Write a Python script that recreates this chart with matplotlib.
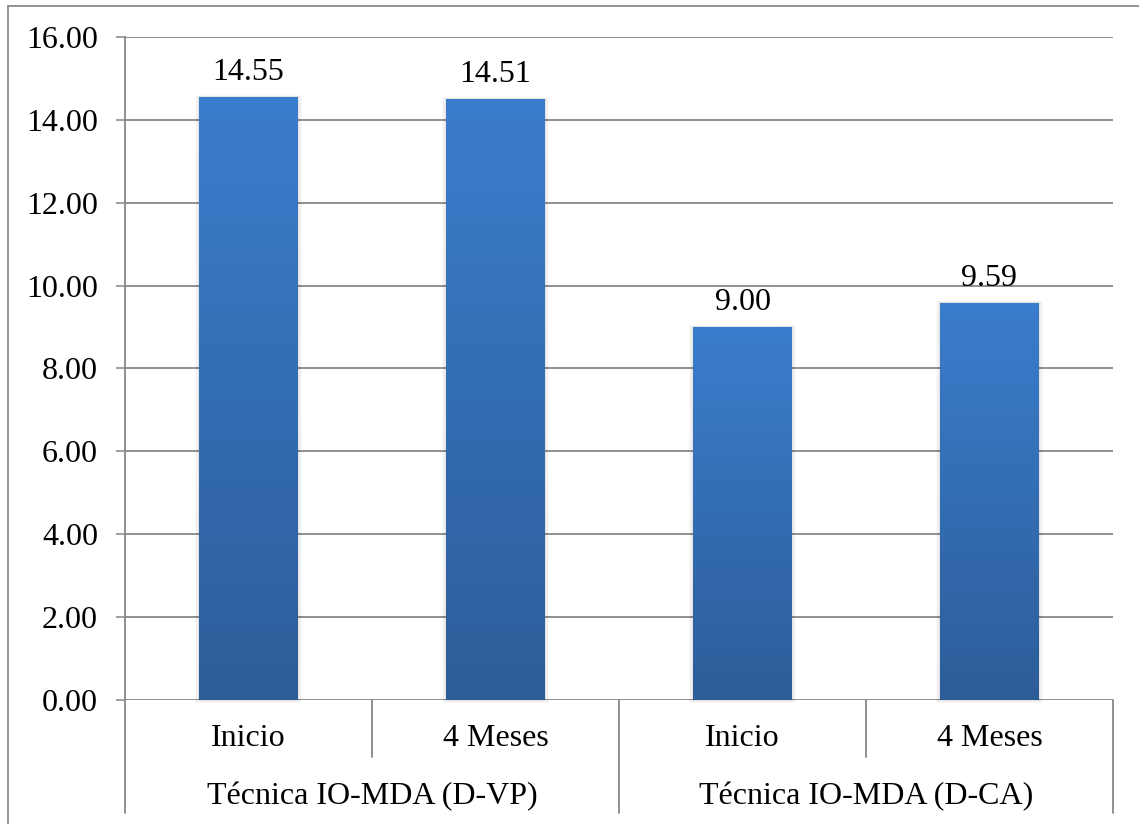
import numpy as np
import matplotlib
matplotlib.use("Agg")
import matplotlib.pyplot as plt
from matplotlib.colors import LinearSegmentedColormap
from matplotlib.patches import Rectangle
from matplotlib.transforms import blended_transform_factory, offset_copy

# Data
groups = ["Técnica IO-MDA (D-VP)", "Técnica IO-MDA (D-CA)"]
periods = ["Inicio", "4 Meses", "Inicio", "4 Meses"]
values = [14.55, 14.51, 9.00, 9.59]
yticks = [0, 2, 4, 6, 8, 10, 12, 14, 16]

plt.rcParams["font.family"] = ["Liberation Serif", "DejaVu Serif"]
FS = 23

W, H = 1139, 824
fig = plt.figure(figsize=(W / 100, H / 100), dpi=100)

# outer frame
fig.patches.append(Rectangle((8 / W, -0.01), 1.2, (H - 6) / H + 0.01,
                             transform=fig.transFigure, fill=False,
                             edgecolor="#8a8a8a", linewidth=1.3))

left, right, top, bottom = 125, 1113, 37, 700
ax = fig.add_axes([left / W, (H - bottom) / H, (right - left) / W, (bottom - top) / H])

grid_c = "#878787"
x = np.arange(len(values))
ax.set_xlim(-0.5, len(values) - 0.5)
ax.set_ylim(0, 16)
ax.set_yticks(yticks)
ax.set_yticklabels([f"{v:.2f}" for v in yticks], fontsize=FS)
ax.tick_params(axis="y", length=6.5, width=1.1, color=grid_c, pad=13)
ax.tick_params(axis="x", length=0, labelbottom=False)
for s in ["top", "right", "bottom"]:
    ax.spines[s].set_visible(False)
ax.spines["left"].set_color(grid_c)
ax.spines["left"].set_linewidth(1.3)
for v in yticks:
    ax.axhline(v, color=grid_c, linewidth=1.3, zorder=1)

# gradient bars with soft shadow
cmap = LinearSegmentedColormap.from_list("bar", ["#2d5d99", "#3a7dcc"])
grad = np.linspace(0, 1, 256).reshape(-1, 1)
bars = ax.bar(x, values, width=0.4, color="none", zorder=3)
for b in bars:
    x0, w, h = b.get_x(), b.get_width(), b.get_height()
    for dx, dy, a in [(0.016, 0.07, 0.025), (0.011, 0.045, 0.035), (0.006, 0.025, 0.05)]:
        ax.add_patch(Rectangle((x0 - dx, -dy), w + 2 * dx, h + dy * 0.6 + dy,
                               facecolor="#000000", alpha=a, edgecolor="none",
                               zorder=2, clip_on=False))
    im = ax.imshow(grad, extent=[x0, x0 + w, 0, h], origin="lower", cmap=cmap,
                   aspect="auto", zorder=3)
    im.set_clip_path(b)
    ax.annotate(f"{h:.2f}", (x0 + w / 2, h), xytext=(0, 12),
                textcoords="offset points", ha="center", va="baseline",
                fontsize=FS, zorder=4)
ax.set_xlim(-0.5, len(values) - 0.5)
ax.set_ylim(0, 16)

# multi-level category axis
tr = blended_transform_factory(ax.transData, ax.transAxes)
px = 72 / 100  # points per pixel


def down(pixels):
    return offset_copy(tr, fig=fig, x=0, y=-pixels * px, units="points")


def drop_line(xpos, pixels):
    ax.annotate("", xy=(xpos, 0), xycoords=tr, xytext=(0, -pixels * px),
                textcoords="offset points",
                arrowprops=dict(arrowstyle="-", color=grid_c, lw=1.3,
                                shrinkA=0, shrinkB=0))


for xi, lab in zip(x, periods):
    ax.text(xi, 0, lab, transform=down(38), ha="center", va="center",
            fontsize=FS, clip_on=False)
for sep in [0.5, 2.5]:
    drop_line(sep, 57)
for sep in [-0.5, 1.5, 3.5]:
    drop_line(sep, 113)
for gi, g in enumerate(groups):
    ax.text(gi * 2 + 0.5, 0, g, transform=down(97), ha="center", va="center",
            fontsize=FS, clip_on=False)

fig.savefig("out.png", dpi=100)
